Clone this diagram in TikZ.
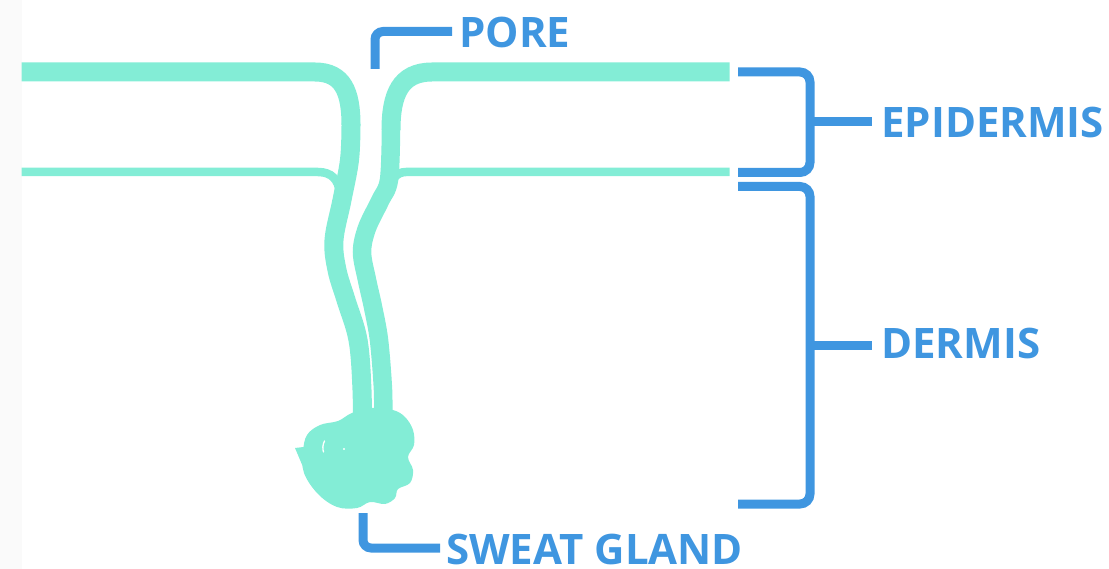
\documentclass[tikz,border=0pt]{standalone}
\usepackage{fontspec}
\setmainfont{Open Sans}[BoldFont={Open Sans Bold}]
\definecolor{skin}{HTML}{83EDD6}
\definecolor{labelblue}{HTML}{3F96E0}
\definecolor{edgegray}{HTML}{FAFAFA}
\begin{document}
\begin{tikzpicture}[x=1pt,y=-1pt,
  layer/.style={draw=skin,line width=19pt},
  thinlayer/.style={draw=skin,line width=8.5pt},
  duct/.style={draw=skin,line width=19pt,line cap=round},
  bracket/.style={draw=labelblue,line width=9pt,rounded corners=10pt},
  lbl/.style={text=labelblue,font=\fontsize{42}{42}\selectfont\bfseries,inner sep=0pt,anchor=base west}]
\useasboundingbox (0,0) rectangle (1109,569);
\fill[edgegray] (0,0) rectangle (21.7,569);

% skin surface and lower boundary of the epidermis
\draw[layer] (21.7,72) -- (315,72) .. controls (343,72) and (351,92) .. (351,125);
\draw[layer] (729.5,72) -- (432,72) .. controls (400,72) and (391,95) .. (391,130);
\draw[thinlayer] (21.7,172) -- (318,172) .. controls (332,172) and (338,180) .. (340,192);
\draw[thinlayer] (729.5,172) -- (406,172) .. controls (396,172) and (391,180) .. (389,192);

% sweat duct walls
\draw[duct] plot[smooth,tension=0.6] coordinates {(351,125) (349.5,160) (342,200) (334,240) (337,270) (346,300) (358,340) (362,390) (362,425)};
\draw[duct,line width=18.5pt] plot[smooth,tension=0.55] coordinates {(391,130) (389,180) (380,201) (367,228) (362,252) (367,280) (373,307) (379,340) (383,390) (383,425)};

% coiled gland
\fill[skin] plot[smooth cycle,tension=0.6] coordinates {(303,452) (307,435) (320,425) (338,421) (352,413) (372,408) (393,410) (405,417) (413,430) (414,445) (408,457) (413,470) (410,483) (398,489) (395,498) (385,504) (370,502) (357,508) (337,507) (318,494) (304,473)};
\fill[skin] (295,448) -- (312,446) -- (306,474) -- cycle;
\draw[white,line width=1.3pt,line cap=round] (324.5,441) .. controls (322.5,445) and (322.5,449) .. (323.5,452);
\fill[white] (344,449) circle (1.2);

% labels
\node[lbl] (pore) at (459,48) {PORE};
\node[lbl] (epi) at (881,138) {EPIDERMIS};
\node[lbl] (derm) at (881,359) {DERMIS};
\node[lbl] (gland) at (446,564) {SWEAT GLAND};

% brackets and leaders
\coordinate (poreA) at (375,69);
\coordinate (poreB) at (452,31.5);
\draw[bracket,rounded corners=8pt] (poreA) -- (poreA |- poreB) -- (poreB);

\coordinate (epiT) at (738,72);
\coordinate (epiB) at (738,172.5);
\draw[bracket] (epiT) -- (810,72) -- (810,172.5) -- (epiB);
\coordinate (epiM) at (810,122);
\draw[bracket] (epiM) -- (872,122);

\coordinate (dermT) at (738,186.5);
\coordinate (dermB) at (738,504);
\draw[bracket] (dermT) -- (810,186.5) -- (810,504) -- (dermB);
\coordinate (dermM) at (810,346);
\draw[bracket] (dermM) -- (872,346);

\coordinate (glandA) at (363,513);
\coordinate (glandB) at (440,548);
\draw[bracket,rounded corners=8pt] (glandA) -- (glandA |- glandB) -- (glandB);
\end{tikzpicture}
\end{document}
